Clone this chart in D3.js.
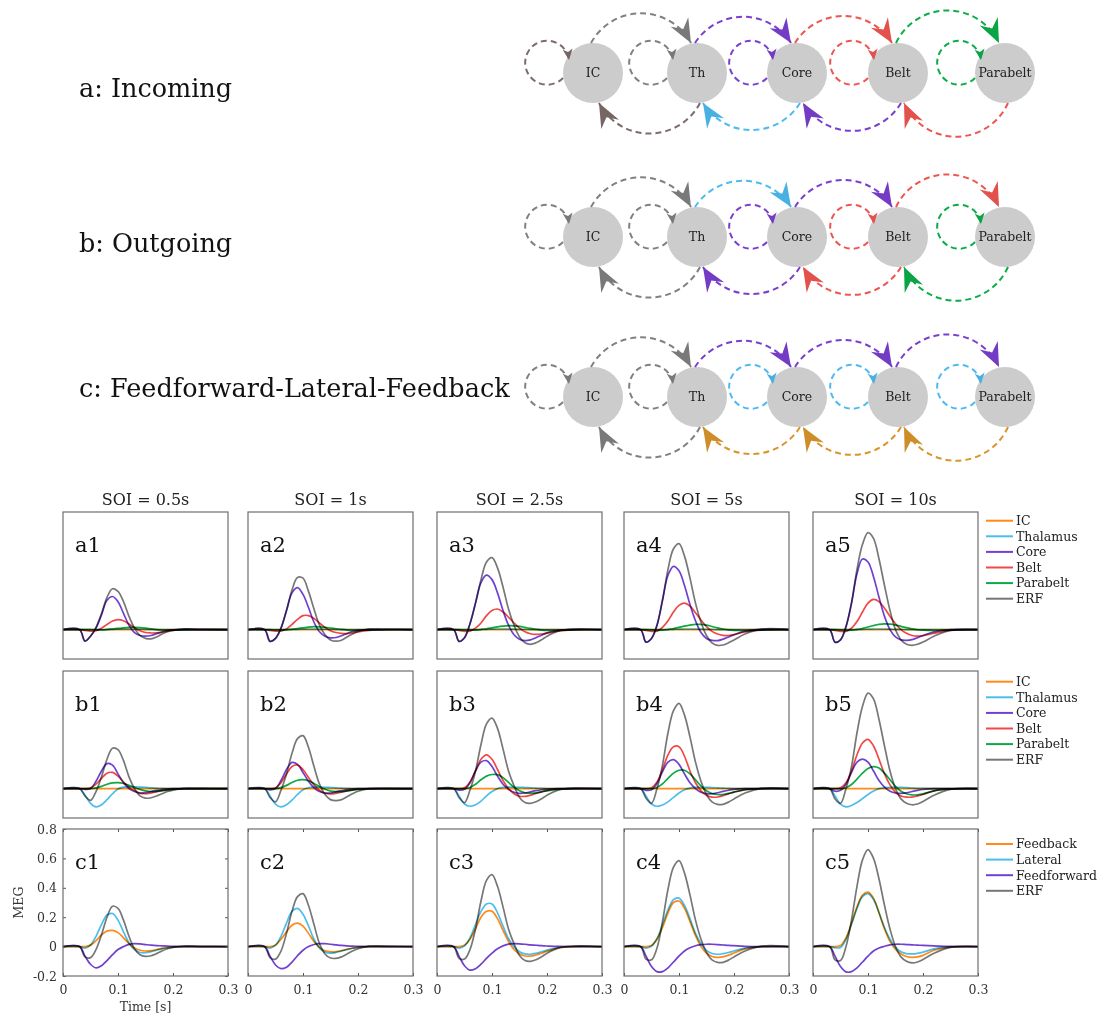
<!DOCTYPE html>
<html>
<head>
<meta charset="utf-8">
<script src="https://cdn.jsdelivr.net/npm/d3@7"></script>
<style>
  body { margin: 0; background: #fff; }
  text { font-family: "DejaVu Serif", serif; }
</style>
</head>
<body>
<svg id="fig" width="1101" height="1017"></svg>
<script>
// ---- data ----
var timePts = [0, 0.03, 0.04, 0.05, 0.06, 0.07, 0.08, 0.09, 0.10, 0.11, 0.12, 0.13, 0.14, 0.15, 0.16, 0.17, 0.18, 0.19, 0.20, 0.22, 0.25, 0.30];
var soiLabels = ["SOI = 0.5s", "SOI = 1s", "SOI = 2.5s", "SOI = 5s", "SOI = 10s"];
var areaNames = ["IC", "Thalamus", "Core", "Belt", "Parabelt", "ERF"];
var connNames = ["Feedback", "Lateral", "Feedforward", "ERF"];
var xTicks = [0, 0.1, 0.2, 0.3];
var yTicks = [-0.2, 0, 0.2, 0.4, 0.6, 0.8];
var nodeNames = ["IC", "Th", "Core", "Belt", "Parabelt"];
var rowTitles = ["a: Incoming", "b: Outgoing", "c: Feedforward-Lateral-Feedback"];

// row a (incoming)
var icFlat = [0,0,0,0,0,0,0,0,0,0,0,0,0,0,0,0,0,0,0,0,0,0];
var thA    = [0,0,0,0,0,0,0.001,0.002,0.003,0.004,0.004,0.004,0.003,0.002,0.001,0,0,0,0,0,0,0];
var a1Core = [0,0,-0.078,-0.045,0.01,0.1,0.2,0.225,0.19,0.11,0.03,-0.02,-0.04,-0.045,-0.04,-0.028,-0.016,-0.007,-0.002,0.003,0.001,0];
var a1Belt = [0,0,-0.005,-0.01,-0.008,0.01,0.035,0.058,0.068,0.06,0.038,0.012,-0.008,-0.02,-0.023,-0.022,-0.017,-0.01,-0.005,0,0,0];
var a1Para = [0,0,0,0,-0.002,-0.002,0,0.004,0.008,0.012,0.015,0.016,0.014,0.01,0.005,0,-0.003,-0.004,-0.004,-0.003,-0.001,0];
var a1ERF  = [0,0,-0.078,-0.045,0.015,0.11,0.22,0.278,0.26,0.19,0.09,0.01,-0.04,-0.06,-0.063,-0.05,-0.03,-0.015,-0.005,0.004,0.002,0];
var a2Core = [0,0,-0.08,-0.06,0.01,0.13,0.25,0.285,0.24,0.15,0.05,-0.015,-0.045,-0.056,-0.054,-0.042,-0.026,-0.013,-0.005,0.002,0.001,0];
var a2Belt = [0,0,-0.005,-0.01,-0.01,0.005,0.035,0.07,0.095,0.095,0.075,0.045,0.015,-0.008,-0.02,-0.026,-0.027,-0.022,-0.015,-0.005,0,0];
var a2Para = [0,0,0,-0.002,-0.003,-0.002,0.002,0.007,0.012,0.017,0.02,0.019,0.016,0.011,0.006,0.001,-0.003,-0.005,-0.005,-0.003,-0.001,0];
var a2ERF  = [0,0,-0.08,-0.06,0.01,0.13,0.27,0.355,0.35,0.26,0.14,0.03,-0.035,-0.07,-0.079,-0.072,-0.05,-0.03,-0.013,0.003,0.002,0];
var a3Core = [0,0,-0.08,-0.055,0.04,0.18,0.32,0.37,0.34,0.25,0.13,0.03,-0.035,-0.065,-0.075,-0.07,-0.055,-0.038,-0.022,-0.005,0.002,0];
var a3Belt = [0,0,-0.005,-0.012,-0.01,0.01,0.045,0.095,0.13,0.14,0.12,0.085,0.045,0.01,-0.015,-0.028,-0.032,-0.03,-0.024,-0.01,-0.002,0];
var a3Para = [0,0,0,-0.002,-0.004,-0.003,0,0.006,0.012,0.019,0.024,0.027,0.026,0.022,0.015,0.008,0.002,-0.003,-0.005,-0.005,-0.002,0];
var a3ERF  = [0,0,-0.08,-0.055,0.04,0.18,0.34,0.46,0.49,0.42,0.29,0.14,0.03,-0.05,-0.09,-0.1,-0.09,-0.07,-0.045,-0.01,0.004,0];
var a4Core = [0,0,-0.085,-0.06,0.03,0.2,0.37,0.43,0.4,0.3,0.17,0.06,-0.02,-0.06,-0.073,-0.075,-0.065,-0.05,-0.035,-0.01,0.002,0];
var a4Belt = [0,0,-0.005,-0.012,-0.01,0.015,0.06,0.12,0.165,0.18,0.16,0.115,0.065,0.02,-0.012,-0.03,-0.039,-0.04,-0.034,-0.015,-0.003,0];
var a4Para = [0,0,0,-0.002,-0.005,-0.004,0,0.007,0.015,0.024,0.031,0.036,0.035,0.03,0.021,0.012,0.004,-0.002,-0.005,-0.006,-0.003,0];
var a4ERF  = [0,0,-0.085,-0.06,0.03,0.2,0.41,0.55,0.585,0.5,0.35,0.18,0.05,-0.04,-0.09,-0.107,-0.105,-0.09,-0.07,-0.03,0.003,0];
var a5Core = [0,0,-0.085,-0.07,0.02,0.18,0.38,0.48,0.46,0.36,0.22,0.09,0,-0.05,-0.07,-0.073,-0.068,-0.055,-0.04,-0.015,0,0];
var a5Belt = [0,0,-0.005,-0.012,-0.012,0.01,0.055,0.12,0.18,0.205,0.19,0.145,0.09,0.04,0,-0.025,-0.04,-0.045,-0.042,-0.025,-0.005,0];
var a5Para = [0,0,0,-0.002,-0.005,-0.004,0,0.008,0.018,0.028,0.036,0.039,0.037,0.031,0.022,0.013,0.005,-0.001,-0.004,-0.006,-0.003,0];
var a5ERF  = [0,0,-0.085,-0.07,0.02,0.18,0.41,0.58,0.66,0.62,0.48,0.3,0.13,0,-0.07,-0.1,-0.107,-0.1,-0.085,-0.045,-0.005,0];

// row b (outgoing)
var b1Th   = [0,0,-0.045,-0.1,-0.124,-0.11,-0.075,-0.035,-0.002,0.01,0.012,0.012,0.01,0.008,0.005,0.003,0.001,0,0,0,0,0];
var b1Core = [0,0,-0.005,0,0.05,0.12,0.17,0.16,0.1,0.04,0,-0.02,-0.03,-0.028,-0.02,-0.012,-0.006,-0.002,0,0,0,0];
var b1Belt = [0,0,0,0.005,0.03,0.07,0.105,0.11,0.085,0.045,0.01,-0.015,-0.032,-0.035,-0.03,-0.022,-0.014,-0.008,-0.004,0,0,0];
var b1Para = [0,0,0,0,0.005,0.015,0.03,0.039,0.041,0.035,0.022,0.008,-0.005,-0.015,-0.02,-0.018,-0.014,-0.01,-0.006,-0.002,0,0];
var b1ERF  = [0,0,-0.05,-0.08,-0.02,0.08,0.2,0.275,0.265,0.19,0.08,0,-0.05,-0.065,-0.062,-0.05,-0.035,-0.02,-0.01,0.002,0.001,0];
var b2Th   = [0,0,-0.05,-0.105,-0.124,-0.11,-0.078,-0.04,-0.008,0.006,0.01,0.01,0.009,0.007,0.005,0.003,0.001,0,0,0,0,0];
var b2Core = [0,0,-0.008,0,0.055,0.13,0.178,0.165,0.11,0.05,0.005,-0.02,-0.03,-0.03,-0.022,-0.014,-0.007,-0.003,0,0,0,0];
var b2Belt = [0,0,0,0.005,0.04,0.1,0.15,0.16,0.13,0.075,0.025,-0.012,-0.032,-0.036,-0.032,-0.024,-0.015,-0.009,-0.004,0,0,0];
var b2Para = [0,0,0,0,0.007,0.022,0.042,0.057,0.061,0.053,0.035,0.013,-0.005,-0.017,-0.021,-0.02,-0.016,-0.011,-0.006,-0.002,0,0];
var b2ERF  = [0,0,-0.06,-0.09,-0.01,0.1,0.24,0.34,0.36,0.28,0.15,0.03,-0.04,-0.075,-0.082,-0.075,-0.055,-0.035,-0.018,0,0.002,0];
var b3Th   = [0,0,-0.05,-0.105,-0.12,-0.11,-0.085,-0.05,-0.02,0,0.008,0.01,0.01,0.009,0.007,0.005,0.003,0.001,0,0,0,0];
var b3Core = [0,0,-0.01,-0.005,0.04,0.12,0.18,0.19,0.15,0.085,0.03,-0.005,-0.025,-0.032,-0.03,-0.022,-0.014,-0.008,-0.004,0,0,0];
var b3Belt = [0,0,0,0.005,0.045,0.12,0.2,0.23,0.2,0.13,0.055,0,-0.035,-0.052,-0.053,-0.045,-0.033,-0.022,-0.012,-0.002,0,0];
var b3Para = [0,0,0,0,0.008,0.03,0.06,0.085,0.096,0.095,0.075,0.042,0.01,-0.015,-0.028,-0.032,-0.029,-0.022,-0.015,-0.005,0,0];
var b3ERF  = [0,0,-0.06,-0.095,-0.01,0.12,0.3,0.44,0.48,0.41,0.27,0.12,0.02,-0.06,-0.095,-0.1,-0.09,-0.07,-0.045,-0.01,0.003,0];
var b4Th   = [0,0,-0.05,-0.105,-0.12,-0.112,-0.09,-0.06,-0.03,-0.008,0.003,0.008,0.009,0.008,0.007,0.005,0.003,0.001,0,0,0,0];
var b4Core = [0,0,-0.012,-0.008,0.035,0.115,0.18,0.197,0.165,0.1,0.04,0,-0.025,-0.034,-0.035,-0.028,-0.019,-0.011,-0.005,0,0,0];
var b4Belt = [0,0,0,0.005,0.045,0.13,0.23,0.285,0.285,0.22,0.12,0.04,-0.015,-0.045,-0.058,-0.057,-0.048,-0.036,-0.024,-0.007,0,0];
var b4Para = [0,0,0,0,0.008,0.032,0.07,0.105,0.125,0.125,0.1,0.06,0.018,-0.015,-0.033,-0.04,-0.04,-0.033,-0.024,-0.008,0,0];
var b4ERF  = [0,0,-0.065,-0.1,0,0.16,0.38,0.53,0.58,0.5,0.35,0.18,0.05,-0.04,-0.09,-0.107,-0.107,-0.092,-0.07,-0.03,0.002,0];
var b5Th   = [0,0,-0.05,-0.105,-0.124,-0.115,-0.095,-0.068,-0.04,-0.017,0,0.006,0.008,0.008,0.008,0.006,0.004,0.002,0.001,0,0,0];
var b5Core = [0,0,-0.018,-0.012,0.03,0.11,0.18,0.2,0.18,0.12,0.055,0.01,-0.018,-0.03,-0.032,-0.028,-0.02,-0.012,-0.006,0,0,0];
var b5Belt = [0,0,0,0.005,0.04,0.12,0.23,0.31,0.335,0.29,0.2,0.1,0.025,-0.025,-0.05,-0.058,-0.058,-0.05,-0.04,-0.015,-0.002,0];
var b5Para = [0,0,0,0,0.006,0.028,0.065,0.105,0.137,0.15,0.14,0.105,0.06,0.015,-0.018,-0.035,-0.043,-0.042,-0.036,-0.015,-0.002,0];
var b5ERF  = [0,0,-0.07,-0.1,0,0.15,0.38,0.56,0.65,0.61,0.47,0.29,0.12,0,-0.07,-0.1,-0.11,-0.105,-0.088,-0.045,-0.005,0];

// row c (connection types)
var c1FB  = [0,0,0,0.01,0.04,0.08,0.105,0.11,0.095,0.06,0.02,-0.01,-0.025,-0.03,-0.028,-0.02,-0.012,-0.007,-0.003,0,0,0];
var c1Lat = [0,0,-0.01,0.01,0.07,0.15,0.215,0.225,0.18,0.1,0.025,-0.02,-0.04,-0.042,-0.035,-0.025,-0.015,-0.008,-0.003,0.002,0,0];
var c1FF  = [0,0,-0.065,-0.12,-0.145,-0.13,-0.095,-0.055,-0.02,0,0.015,0.02,0.018,0.014,0.01,0.007,0.005,0.003,0.002,0,0,0];
var c1ERF = [0,0,-0.07,-0.075,-0.02,0.08,0.2,0.275,0.26,0.18,0.07,-0.015,-0.055,-0.066,-0.062,-0.048,-0.03,-0.015,-0.005,0.004,0.002,0];
var c2FB  = [0,0,0,0.01,0.05,0.1,0.145,0.16,0.14,0.09,0.035,-0.005,-0.028,-0.035,-0.034,-0.027,-0.018,-0.01,-0.005,0,0,0];
var c2Lat = [0,0,-0.01,0.01,0.07,0.16,0.24,0.26,0.22,0.14,0.05,-0.01,-0.038,-0.045,-0.04,-0.03,-0.02,-0.011,-0.005,0.001,0,0];
var c2FF  = [0,0,-0.065,-0.125,-0.15,-0.14,-0.105,-0.062,-0.025,0,0.014,0.02,0.02,0.016,0.012,0.008,0.005,0.003,0.002,0,0,0];
var c2ERF = [0,0,-0.075,-0.085,-0.03,0.09,0.24,0.34,0.36,0.28,0.15,0.02,-0.05,-0.078,-0.08,-0.07,-0.05,-0.03,-0.015,0.003,0.004,0];
var c3FB  = [0,0,0,0.01,0.05,0.12,0.2,0.24,0.24,0.19,0.11,0.035,-0.02,-0.05,-0.064,-0.065,-0.057,-0.045,-0.032,-0.01,0,0];
var c3Lat = [0,0,-0.01,0.005,0.06,0.15,0.24,0.29,0.29,0.23,0.14,0.055,0,-0.035,-0.05,-0.052,-0.045,-0.035,-0.024,-0.006,0.001,0];
var c3FF  = [0,0,-0.065,-0.13,-0.16,-0.15,-0.12,-0.08,-0.045,-0.015,0.005,0.017,0.02,0.019,0.016,0.012,0.009,0.006,0.004,0.001,0,0];
var c3ERF = [0,0,-0.08,-0.085,-0.02,0.12,0.31,0.45,0.49,0.41,0.27,0.12,0.02,-0.06,-0.095,-0.1,-0.09,-0.07,-0.045,-0.01,0.004,0];
var c4FB  = [0,0,0,0.008,0.05,0.13,0.23,0.3,0.31,0.26,0.17,0.075,0,-0.045,-0.067,-0.073,-0.07,-0.058,-0.044,-0.015,0,0];
var c4Lat = [0,0,-0.01,0.003,0.055,0.15,0.25,0.32,0.33,0.28,0.19,0.09,0.02,-0.025,-0.047,-0.052,-0.048,-0.04,-0.03,-0.01,0,0];
var c4FF  = [0,0,-0.065,-0.135,-0.17,-0.17,-0.145,-0.105,-0.065,-0.03,-0.008,0.006,0.013,0.016,0.016,0.014,0.011,0.008,0.006,0.002,0,0];
var c4ERF = [0,0,-0.085,-0.09,-0.01,0.17,0.39,0.54,0.585,0.5,0.35,0.18,0.05,-0.04,-0.09,-0.107,-0.107,-0.092,-0.07,-0.03,0.003,0];
var c5FB  = [0,0,0,0.008,0.06,0.16,0.27,0.35,0.37,0.33,0.23,0.12,0.035,-0.02,-0.05,-0.067,-0.073,-0.07,-0.06,-0.025,-0.003,0];
var c5Lat = [0,0,-0.008,-0.006,0.05,0.15,0.26,0.34,0.36,0.32,0.23,0.13,0.05,-0.005,-0.035,-0.048,-0.05,-0.046,-0.038,-0.015,-0.002,0];
var c5FF  = [0,0,-0.065,-0.135,-0.172,-0.17,-0.145,-0.105,-0.065,-0.03,-0.01,0.002,0.012,0.016,0.016,0.014,0.012,0.01,0.008,0.005,0.001,0];
var c5ERF = [0,0,-0.09,-0.095,0,0.18,0.41,0.59,0.66,0.6,0.46,0.28,0.12,0,-0.07,-0.1,-0.111,-0.105,-0.088,-0.045,-0.005,0];

// ---- look ----
var lineCol = { orange: "#ff8a1a", blue: "#4dbdee", purple: "#7040d0", red: "#f04848", green: "#0fa843", gray: "#777777" };
var areaCols = [lineCol.orange, lineCol.blue, lineCol.purple, lineCol.red, lineCol.green, lineCol.gray];
var connCols = [lineCol.orange, lineCol.blue, lineCol.purple, lineCol.gray];

var net = { gray: "#808080", brown: "#7e6b69", purple: "#7a3fd0", red: "#ee5550", green: "#0aad48", blue: "#4dbbee", gold: "#d8952a" };
var loopCols   = [[net.brown, net.gray, net.purple, net.red, net.green],
                  [net.gray, net.gray, net.purple, net.red, net.green],
                  [net.gray, net.gray, net.blue, net.blue, net.blue]];
var topCols    = [[net.gray, net.purple, net.red, net.green],
                  [net.gray, net.blue, net.purple, net.red],
                  [net.gray, net.purple, net.purple, net.purple]];
var bottomCols = [[net.brown, net.blue, net.purple, net.red],
                  [net.gray, net.purple, net.red, net.green],
                  [net.gray, net.gold, net.gold, net.gold]];

var panelRows = [
  { names: areaNames, cols: areaCols, label: "a", data: [
      [icFlat, thA, a1Core, a1Belt, a1Para, a1ERF],
      [icFlat, thA, a2Core, a2Belt, a2Para, a2ERF],
      [icFlat, thA, a3Core, a3Belt, a3Para, a3ERF],
      [icFlat, thA, a4Core, a4Belt, a4Para, a4ERF],
      [icFlat, thA, a5Core, a5Belt, a5Para, a5ERF]] },
  { names: areaNames, cols: areaCols, label: "b", data: [
      [icFlat, b1Th, b1Core, b1Belt, b1Para, b1ERF],
      [icFlat, b2Th, b2Core, b2Belt, b2Para, b2ERF],
      [icFlat, b3Th, b3Core, b3Belt, b3Para, b3ERF],
      [icFlat, b4Th, b4Core, b4Belt, b4Para, b4ERF],
      [icFlat, b5Th, b5Core, b5Belt, b5Para, b5ERF]] },
  { names: connNames, cols: connCols, label: "c", data: [
      [c1FB, c1Lat, c1FF, c1ERF],
      [c2FB, c2Lat, c2FF, c2ERF],
      [c3FB, c3Lat, c3FF, c3ERF],
      [c4FB, c4Lat, c4FF, c4ERF],
      [c5FB, c5Lat, c5FF, c5ERF]] }
];

var svg = d3.select("#fig");
var defs = svg.append("defs");

// ---- network diagrams ----
var nodeX = [593, 697, 797, 898, 1005];
var netY  = [73, 237, 397];
var titleY = [97, 252, 397];
var nodeR = 30;
var markerCount = 0;

function arrowMarker(color, big){
	var id = "m" + (markerCount++);
	var len = big ? 24 : 11, half = big ? 10 : 5, notch = big ? 16 : 8;
	defs.append("marker")
		.attr("id", id)
		.attr("markerUnits", "userSpaceOnUse")
		.attr("viewBox", (-len - 2) + " " + (-half - 1) + " " + (len + 4) + " " + (2 * half + 2))
		.attr("markerWidth", len + 4).attr("markerHeight", 2 * half + 2)
		.attr("refX", 0).attr("refY", 0)
		.attr("orient", "auto")
		.append("path")
		.attr("d", "M0,0 L" + (-len) + "," + (-half) + " L" + (-notch) + ",0 L" + (-len) + "," + half + " Z")
		.attr("fill", d3.color(color).darker(0.15));
	return "url(#" + id + ")";
}

rowTitles.forEach(function(title, r){
	var cy = netY[r];
	svg.append("text")
		.attr("x", 79).attr("y", titleY[r])
		.attr("font-size", 25.5).attr("fill", "#111")
		.text(title);

	var g = svg.append("g");
	// nodes
	nodeNames.forEach(function(n, i){
		g.append("circle").attr("cx", nodeX[i]).attr("cy", cy).attr("r", nodeR).attr("fill", "#cccccc");
		g.append("text").attr("x", nodeX[i]).attr("y", cy).attr("dy", "0.35em")
			.attr("text-anchor", "middle").attr("font-size", 12.5).attr("fill", "#222").text(n);
	});
	var dashed = function(sel){
		return sel.attr("fill", "none").attr("stroke-width", 2).attr("stroke-dasharray", "6,4");
	};
	// self loops
	nodeNames.forEach(function(n, i){
		var x = nodeX[i];
		g.append("path")
			.attr("d", "M" + (x - 30) + "," + (cy + 5) + " A22,22 0 1 1 " + (x - 24) + "," + (cy - 13))
			.call(dashed)
			.attr("stroke", loopCols[r][i])
			.attr("marker-end", arrowMarker(loopCols[r][i], false));
	});
	// forward arcs over the top
	for (var i = 0; i < 4; i++){
		g.append("path")
			.attr("d", "M" + (nodeX[i] - 2) + "," + (cy - 30) + " A57,57 0 0 1 " + (nodeX[i + 1] - 6) + "," + (cy - 30))
			.call(dashed)
			.attr("stroke", topCols[r][i])
			.attr("marker-end", arrowMarker(topCols[r][i], true));
	}
	// backward arcs underneath
	for (var j = 0; j < 4; j++){
		g.append("path")
			.attr("d", "M" + (nodeX[j + 1] + 3) + "," + (cy + 30) + " A57,57 0 0 1 " + (nodeX[j] + 6) + "," + (cy + 30))
			.call(dashed)
			.attr("stroke", bottomCols[r][j])
			.attr("marker-end", arrowMarker(bottomCols[r][j], true));
	}
});

// ---- MEG panels ----
var colX   = [63, 248, 437, 624, 813];
var rowTop = [512, 671, 829];
var pw = 165, ph = 147;
var legendY = [520.7, 681.7, 844];

var x = d3.scaleLinear().domain([0, 0.3]).range([0, pw]);
var y = d3.scaleLinear().domain([-0.2, 0.8]).range([ph, 0]);
var line = d3.line()
	.x(function(d, i){ return x(timePts[i]); })
	.y(function(d){ return y(d); })
	.curve(d3.curveCatmullRom.alpha(0.5));

soiLabels.forEach(function(s, c){
	svg.append("text")
		.attr("x", colX[c] + pw / 2).attr("y", 505)
		.attr("text-anchor", "middle").attr("font-size", 16).attr("fill", "#222")
		.text(s);
});

panelRows.forEach(function(row, r){
	row.data.forEach(function(series, c){
		var g = svg.append("g").attr("transform", "translate(" + colX[c] + "," + rowTop[r] + ")");
		var lines = g.append("g").style("isolation", "isolate");
		series.forEach(function(vals, k){
			lines.append("path")
				.datum(vals)
				.attr("d", line)
				.attr("fill", "none")
				.attr("stroke", row.cols[k])
				.attr("stroke-width", 1.7)
				.style("mix-blend-mode", "multiply");
		});

		if (r == 2){
			var tickStyle = function(a){
				a.select(".domain").remove();
				a.selectAll(".tick line").attr("stroke", "#555");
				a.selectAll(".tick text").attr("font-size", 12.5).attr("fill", "#333")
					.style("font-family", "'DejaVu Serif', serif");
			};
			g.append("g").attr("transform", "translate(0," + ph + ")")
				.call(d3.axisBottom(x).tickValues(xTicks).tickSize(-3).tickPadding(9).tickFormat(function(d){ return String(d); }))
				.call(tickStyle);
			g.append("g")
				.call(d3.axisTop(x).tickValues(xTicks).tickSize(-3).tickFormat(""))
				.call(tickStyle);
			if (c == 0){
				g.append("g")
					.call(d3.axisLeft(y).tickValues(yTicks).tickSize(-3).tickPadding(6).tickFormat(function(d){ return String(d); }))
					.call(tickStyle);
				g.append("g").attr("transform", "translate(" + pw + ",0)")
					.call(d3.axisRight(y).tickValues(yTicks).tickSize(-3).tickFormat(""))
					.call(tickStyle);
				g.append("text")
					.attr("x", pw / 2).attr("y", ph + 35)
					.attr("text-anchor", "middle").attr("font-size", 12.5).attr("fill", "#333")
					.text("Time [s]");
				g.append("text")
					.attr("transform", "translate(-40," + (ph / 2) + ") rotate(-90)")
					.attr("text-anchor", "middle").attr("font-size", 12.5).attr("fill", "#333")
					.text("MEG");
			}
		}

		g.append("rect").attr("width", pw).attr("height", ph)
			.attr("fill", "none").attr("stroke", "#6e6e6e").attr("stroke-width", 1.2);
		g.append("text")
			.attr("x", 12).attr("y", 40)
			.attr("font-size", 21).attr("fill", "#111")
			.text(row.label + (c + 1));
	});

	// legend
	var lg = svg.append("g");
	row.names.forEach(function(n, k){
		var ly = legendY[r] + k * 15.6;
		lg.append("line").attr("x1", 986).attr("x2", 1013).attr("y1", ly).attr("y2", ly)
			.attr("stroke", row.cols[k]).attr("stroke-width", 2);
		lg.append("text").attr("x", 1016).attr("y", ly).attr("dy", "0.35em")
			.attr("font-size", 12.5).attr("fill", "#222").text(n);
	});
});
</script>
</body>
</html>
